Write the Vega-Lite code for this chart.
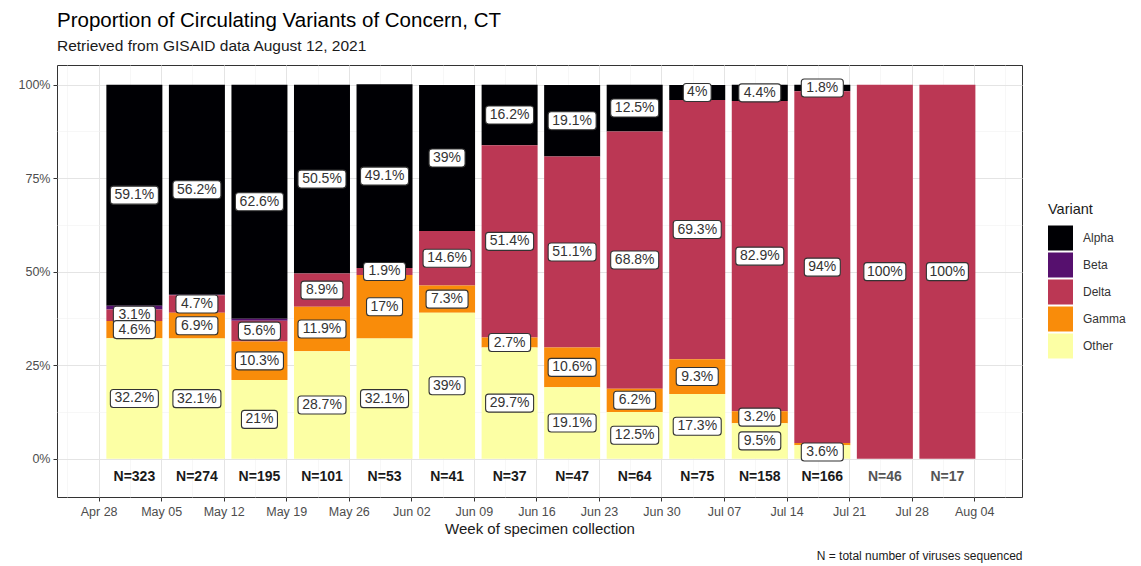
{
  "$schema": "https://vega.github.io/schema/vega-lite/v6.json",
  "width": 965,
  "height": 432,
  "autosize": {"type": "none"},
  "padding": {"left": 57, "top": 65, "right": 119, "bottom": 69},
  "title": {
    "text": "Proportion of Circulating Variants of Concern, CT",
    "subtitle": "Retrieved from GISAID data August 12, 2021",
    "anchor": "start",
    "frame": "group",
    "fontSize": 20.5,
    "fontWeight": "normal",
    "color": "#000000",
    "subtitleFontSize": 15.5,
    "subtitleColor": "#1a1a1a",
    "subtitlePadding": 7,
    "offset": 11
  },
  "datasets": {
    "rows": [
      {"week": "2021-05-02", "variant": "Alpha", "p": 0.591},
      {"week": "2021-05-02", "variant": "Beta", "p": 0.010},
      {"week": "2021-05-02", "variant": "Delta", "p": 0.031},
      {"week": "2021-05-02", "variant": "Gamma", "p": 0.046},
      {"week": "2021-05-02", "variant": "Other", "p": 0.322},
      {"week": "2021-05-09", "variant": "Alpha", "p": 0.562},
      {"week": "2021-05-09", "variant": "Beta", "p": 0.001},
      {"week": "2021-05-09", "variant": "Delta", "p": 0.047},
      {"week": "2021-05-09", "variant": "Gamma", "p": 0.069},
      {"week": "2021-05-09", "variant": "Other", "p": 0.321},
      {"week": "2021-05-16", "variant": "Alpha", "p": 0.626},
      {"week": "2021-05-16", "variant": "Beta", "p": 0.005},
      {"week": "2021-05-16", "variant": "Delta", "p": 0.056},
      {"week": "2021-05-16", "variant": "Gamma", "p": 0.103},
      {"week": "2021-05-16", "variant": "Other", "p": 0.210},
      {"week": "2021-05-23", "variant": "Alpha", "p": 0.505},
      {"week": "2021-05-23", "variant": "Delta", "p": 0.089},
      {"week": "2021-05-23", "variant": "Gamma", "p": 0.119},
      {"week": "2021-05-23", "variant": "Other", "p": 0.287},
      {"week": "2021-05-30", "variant": "Alpha", "p": 0.491},
      {"week": "2021-05-30", "variant": "Delta", "p": 0.019},
      {"week": "2021-05-30", "variant": "Gamma", "p": 0.170},
      {"week": "2021-05-30", "variant": "Other", "p": 0.321},
      {"week": "2021-06-06", "variant": "Alpha", "p": 0.390},
      {"week": "2021-06-06", "variant": "Delta", "p": 0.146},
      {"week": "2021-06-06", "variant": "Gamma", "p": 0.073},
      {"week": "2021-06-06", "variant": "Other", "p": 0.390},
      {"week": "2021-06-13", "variant": "Alpha", "p": 0.162},
      {"week": "2021-06-13", "variant": "Delta", "p": 0.514},
      {"week": "2021-06-13", "variant": "Gamma", "p": 0.027},
      {"week": "2021-06-13", "variant": "Other", "p": 0.297},
      {"week": "2021-06-20", "variant": "Alpha", "p": 0.191},
      {"week": "2021-06-20", "variant": "Delta", "p": 0.511},
      {"week": "2021-06-20", "variant": "Gamma", "p": 0.106},
      {"week": "2021-06-20", "variant": "Other", "p": 0.191},
      {"week": "2021-06-27", "variant": "Alpha", "p": 0.125},
      {"week": "2021-06-27", "variant": "Delta", "p": 0.688},
      {"week": "2021-06-27", "variant": "Gamma", "p": 0.062},
      {"week": "2021-06-27", "variant": "Other", "p": 0.125},
      {"week": "2021-07-04", "variant": "Alpha", "p": 0.040},
      {"week": "2021-07-04", "variant": "Delta", "p": 0.693},
      {"week": "2021-07-04", "variant": "Gamma", "p": 0.093},
      {"week": "2021-07-04", "variant": "Other", "p": 0.173},
      {"week": "2021-07-11", "variant": "Alpha", "p": 0.044},
      {"week": "2021-07-11", "variant": "Delta", "p": 0.829},
      {"week": "2021-07-11", "variant": "Gamma", "p": 0.032},
      {"week": "2021-07-11", "variant": "Other", "p": 0.095},
      {"week": "2021-07-18", "variant": "Alpha", "p": 0.018},
      {"week": "2021-07-18", "variant": "Delta", "p": 0.940},
      {"week": "2021-07-18", "variant": "Gamma", "p": 0.006},
      {"week": "2021-07-18", "variant": "Other", "p": 0.036},
      {"week": "2021-07-25", "variant": "Delta", "p": 1.0},
      {"week": "2021-08-01", "variant": "Delta", "p": 1.0}
    ],
    "ns": [
      {"week": "2021-05-02", "n_label": "N=323"},
      {"week": "2021-05-09", "n_label": "N=274"},
      {"week": "2021-05-16", "n_label": "N=195"},
      {"week": "2021-05-23", "n_label": "N=101"},
      {"week": "2021-05-30", "n_label": "N=53"},
      {"week": "2021-06-06", "n_label": "N=41"},
      {"week": "2021-06-13", "n_label": "N=37"},
      {"week": "2021-06-20", "n_label": "N=47"},
      {"week": "2021-06-27", "n_label": "N=64"},
      {"week": "2021-07-04", "n_label": "N=75"},
      {"week": "2021-07-11", "n_label": "N=158"},
      {"week": "2021-07-18", "n_label": "N=166"},
      {"week": "2021-07-25", "n_label": "N=46"},
      {"week": "2021-08-01", "n_label": "N=17"}
    ]
  },
  "layer": [
    {
      "data": {"name": "rows"},
      "transform": [
        {"stack": "p", "groupby": ["week"], "sort": [{"field": "variant", "order": "descending"}], "as": ["p0", "p1"]}
      ],
      "mark": {"type": "bar", "size": 56},
      "encoding": {
        "x": {
          "field": "week",
          "type": "temporal",
          "scale": {
            "type": "utc",
            "domain": [
              {"year": 2021, "month": 4, "date": 23, "hours": 21, "minutes": 36, "utc": true},
              {"year": 2021, "month": 8, "date": 8, "hours": 19, "minutes": 0, "utc": true}
            ]
          },
          "axis": {
            "values": [
              {"year": 2021, "month": 4, "date": 28, "utc": true},
              {"year": 2021, "month": 5, "date": 5, "utc": true},
              {"year": 2021, "month": 5, "date": 12, "utc": true},
              {"year": 2021, "month": 5, "date": 19, "utc": true},
              {"year": 2021, "month": 5, "date": 26, "utc": true},
              {"year": 2021, "month": 6, "date": 2, "utc": true},
              {"year": 2021, "month": 6, "date": 9, "utc": true},
              {"year": 2021, "month": 6, "date": 16, "utc": true},
              {"year": 2021, "month": 6, "date": 23, "utc": true},
              {"year": 2021, "month": 6, "date": 30, "utc": true},
              {"year": 2021, "month": 7, "date": 7, "utc": true},
              {"year": 2021, "month": 7, "date": 14, "utc": true},
              {"year": 2021, "month": 7, "date": 21, "utc": true},
              {"year": 2021, "month": 7, "date": 28, "utc": true},
              {"year": 2021, "month": 8, "date": 4, "utc": true}
            ],
            "labelExpr": "utcFormat(datum.value, '%b %d')",
            "title": "Week of specimen collection",
            "grid": true,
            "gridColor": "#e4e4e4",
            "gridWidth": 1,
            "domain": false,
            "ticks": true,
            "tickColor": "#333333",
            "tickSize": 4,
            "labelColor": "#4d4d4d",
            "labelFontSize": 12.5,
            "labelPadding": 4,
            "labelFlush": false,
            "labelOverlap": false,
            "titleFontSize": 15,
            "titleColor": "#1a1a1a",
            "titleFontWeight": "normal",
            "titlePadding": 4
          }
        },
        "y": {
          "field": "p0",
          "type": "quantitative",
          "scale": {"domain": [-0.1025, 1.0525], "nice": false, "zero": false},
          "axis": {
            "values": [0, 0.25, 0.5, 0.75, 1],
            "labelExpr": "format(datum.value, '.0%')",
            "title": null,
            "grid": true,
            "gridColor": "#e4e4e4",
            "gridWidth": 1,
            "domain": false,
            "tickColor": "#333333",
            "tickSize": 4,
            "labelColor": "#4d4d4d",
            "labelFontSize": 12.5,
            "labelPadding": 3
          }
        },
        "y2": {"field": "p1"},
        "color": {
          "field": "variant",
          "type": "nominal",
          "scale": {
            "domain": ["Alpha", "Beta", "Delta", "Gamma", "Other"],
            "range": ["#000004", "#56106E", "#BB3754", "#F98C0A", "#FCFFA4"]
          },
          "legend": {
            "title": "Variant",
            "orient": "none",
            "legendX": 991,
            "legendY": 138,
            "symbolType": "square",
            "symbolSize": 625,
            "symbolStrokeWidth": 0,
            "symbolOpacity": 1,
            "rowPadding": 2,
            "labelFontSize": 12,
            "labelColor": "#333333",
            "labelOffset": 10,
            "titleFontSize": 14.5,
            "titleFontWeight": "normal",
            "titleColor": "#1a1a1a",
            "titlePadding": 8
          }
        }
      }
    },
    {
      "data": {"name": "rows"},
      "transform": [
        {"stack": "p", "groupby": ["week"], "sort": [{"field": "variant", "order": "descending"}], "as": ["p0", "p1"]},
        {"filter": "datum.p >= 0.015"},
        {"calculate": "(datum.p0 + datum.p1) / 2", "as": "label_y"}
      ],
      "mark": {"type": "point", "filled": true, "fill": "white", "stroke": "#333333", "strokeWidth": 1.1, "opacity": 1, "size": 2304},
      "encoding": {
        "x": {"field": "week", "type": "temporal", "axis": null},
        "y": {"field": "label_y", "type": "quantitative", "axis": null},
        "shape": {
          "condition": [
            {"test": "length(format(datum.p, '.1~%')) <= 2", "value": "M-0.455,-0.375L0.455,-0.375Q0.58,-0.375 0.58,-0.25L0.58,0.25Q0.58,0.375 0.455,0.375L-0.455,0.375Q-0.58,0.375 -0.58,0.25L-0.58,-0.25Q-0.58,-0.375 -0.455,-0.375Z"},
            {"test": "length(format(datum.p, '.1~%')) == 3", "value": "M-0.625,-0.375L0.625,-0.375Q0.75,-0.375 0.75,-0.25L0.75,0.25Q0.75,0.375 0.625,0.375L-0.625,0.375Q-0.75,0.375 -0.75,0.25L-0.75,-0.25Q-0.75,-0.375 -0.625,-0.375Z"},
            {"test": "length(format(datum.p, '.1~%')) == 4", "value": "M-0.75,-0.375L0.75,-0.375Q0.875,-0.375 0.875,-0.25L0.875,0.25Q0.875,0.375 0.75,0.375L-0.75,0.375Q-0.875,0.375 -0.875,0.25L-0.875,-0.25Q-0.875,-0.375 -0.75,-0.375Z"}
          ],
          "value": "M-0.875,-0.375L0.875,-0.375Q1,-0.375 1,-0.25L1,0.25Q1,0.375 0.875,0.375L-0.875,0.375Q-1,0.375 -1,0.25L-1,-0.25Q-1,-0.375 -0.875,-0.375Z"
        }
      }
    },
    {
      "data": {"name": "rows"},
      "transform": [
        {"stack": "p", "groupby": ["week"], "sort": [{"field": "variant", "order": "descending"}], "as": ["p0", "p1"]},
        {"filter": "datum.p >= 0.015"},
        {"calculate": "(datum.p0 + datum.p1) / 2", "as": "label_y"}
      ],
      "mark": {"type": "text", "fontSize": 14, "color": "#333333", "baseline": "middle", "align": "center"},
      "encoding": {
        "x": {"field": "week", "type": "temporal", "axis": null},
        "y": {"field": "label_y", "type": "quantitative", "axis": null},
        "text": {"field": "p", "type": "quantitative", "format": ".1~%"}
      }
    },
    {
      "data": {"name": "ns"},
      "mark": {"type": "text", "fontSize": 14, "fontWeight": "bold", "baseline": "middle", "align": "center"},
      "encoding": {
        "x": {
          "field": "week",
          "type": "temporal",
          "axis": {
            "orient": "top",
            "values": [
              {"year": 2021, "month": 4, "date": 24, "hours": 12, "utc": true},
              {"year": 2021, "month": 5, "date": 1, "hours": 12, "utc": true},
              {"year": 2021, "month": 5, "date": 8, "hours": 12, "utc": true},
              {"year": 2021, "month": 5, "date": 15, "hours": 12, "utc": true},
              {"year": 2021, "month": 5, "date": 22, "hours": 12, "utc": true},
              {"year": 2021, "month": 5, "date": 29, "hours": 12, "utc": true},
              {"year": 2021, "month": 6, "date": 5, "hours": 12, "utc": true},
              {"year": 2021, "month": 6, "date": 12, "hours": 12, "utc": true},
              {"year": 2021, "month": 6, "date": 19, "hours": 12, "utc": true},
              {"year": 2021, "month": 6, "date": 26, "hours": 12, "utc": true},
              {"year": 2021, "month": 7, "date": 3, "hours": 12, "utc": true},
              {"year": 2021, "month": 7, "date": 10, "hours": 12, "utc": true},
              {"year": 2021, "month": 7, "date": 17, "hours": 12, "utc": true},
              {"year": 2021, "month": 7, "date": 24, "hours": 12, "utc": true},
              {"year": 2021, "month": 7, "date": 31, "hours": 12, "utc": true},
              {"year": 2021, "month": 8, "date": 7, "hours": 12, "utc": true}
            ],
            "grid": true,
            "gridColor": "#f1f1f1",
            "gridWidth": 0.6,
            "labels": false,
            "ticks": false,
            "domain": false,
            "title": "N = total number of viruses sequenced",
            "titleX": 965,
            "titleY": 490,
            "titleAlign": "right",
            "titleAnchor": "end",
            "titleBaseline": "middle",
            "titleAngle": 0,
            "titleFontSize": 12,
            "titleFontWeight": "normal",
            "titleColor": "#1a1a1a"
          }
        },
        "y": {
          "datum": -0.05,
          "type": "quantitative",
          "axis": {
            "orient": "right",
            "values": [0.125, 0.375, 0.625, 0.875],
            "grid": true,
            "gridColor": "#f1f1f1",
            "gridWidth": 0.6,
            "labels": false,
            "ticks": false,
            "domain": false,
            "title": null
          }
        },
        "text": {"field": "n_label", "type": "nominal"},
        "color": {
          "condition": {"test": "time(datum.week) >= utc(2021, 6, 24)", "value": "#555555"},
          "value": "#1a1a1a"
        }
      }
    }
  ],
  "resolve": {"axis": {"x": "independent", "y": "independent"}},
  "config": {
    "font": "Liberation Sans",
    "view": {"stroke": "#333333", "strokeWidth": 1}
  }
}
